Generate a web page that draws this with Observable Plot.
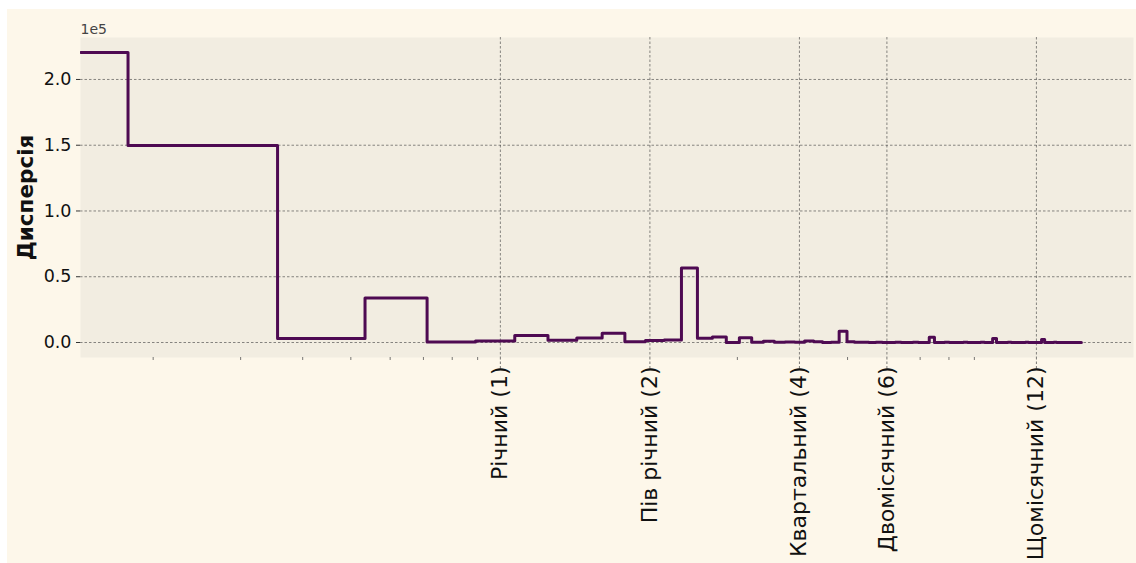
<!DOCTYPE html>
<html>
<head>
<meta charset="utf-8">
<script src="https://cdn.jsdelivr.net/npm/d3@7"></script>
<script src="https://cdn.jsdelivr.net/npm/@observablehq/plot@0.6"></script>
<style>
  html, body { margin: 0; padding: 0; background: #ffffff; }
  #fig { position: absolute; left: 7px; top: 9px; width: 1129px; height: 554px; background: #fdf7ea; overflow: hidden; }
</style>
</head>
<body>
<div id="fig"></div>
<script>
// Frequency (cycles per year) at each step edge
const freq = [0.143, 0.178, 0.356, 0.534, 0.712, 0.891, 1.069, 1.247, 1.425, 1.603,
  1.781, 1.959, 2.137, 2.315, 2.493, 2.672, 2.850, 3.028, 3.206, 3.384,
  3.562, 3.740, 3.918, 4.096, 4.274, 4.453, 4.631, 4.809, 4.987, 5.165,
  5.343, 5.521, 5.699, 5.877, 6.055, 6.234, 6.412, 6.590, 6.768, 6.946,
  7.124, 7.302, 7.480, 7.658, 7.836, 8.015, 8.193, 8.371, 8.549, 8.727,
  8.905, 9.083, 9.261, 9.439, 9.617, 9.796, 9.974, 10.152, 10.330, 10.508,
  10.686, 10.864, 11.042, 11.220, 11.398, 11.577, 11.755, 11.933, 12.111, 12.289,
  12.467, 12.645, 12.823, 13.001, 13.179, 13.358, 13.536, 13.714, 13.892, 14.070,
  14.248, 14.426, 14.604, 14.782];
// Variance on each step (value holds until the next edge)
const variance = [220500, 149800, 3000, 33800, 300, 1200, 5300, 1800, 3400, 7000,
  600, 1500, 2000, 56700, 3300, 4200, 100, 3600, 200, 1000,
  200, 300, 200, 1100, 600, 100, 200, 8500, 600, 200,
  150, 100, 150, 100, 100, 150, 100, 100, 150, 100,
  100, 4000, 100, 100, 150, 100, 100, 100, 150, 100,
  100, 100, 150, 100, 100, 3000, 100, 100, 100, 150,
  100, 100, 100, 100, 150, 100, 100, 100, 100, 2300,
  100, 100, 100, 150, 100, 100, 100, 100, 100, 100,
  100, 100, 100, 100];
const majorTicks = [1, 2, 4, 6, 12];
const majorLabels = ["Річний (1)", "Пів річний (2)", "Квартальний (4)", "Двомісячний (6)", "Щомісячний (12)"];
const minorTicks = [0.2, 0.3, 0.4, 0.5, 0.6, 0.7, 0.8, 0.9, 3, 5, 7, 8, 9];
const yTicks = [0, 50000, 100000, 150000, 200000];
const yTickLabels = ["0.0", "0.5", "1.0", "1.5", "2.0"];

const data = freq.map((f, i) => ({f, v: variance[i]}));
const labelRows = majorTicks.map((t, i) => ({t, label: majorLabels[i]}));

const chart = Plot.plot({
  width: 1129,
  height: 554,
  marginLeft: 73,
  marginRight: 3,
  marginTop: 28,
  marginBottom: 206,
  style: {fontFamily: "DejaVu Sans", background: "transparent", color: "#111"},
  x: {type: "log", domain: [0.1428, 18.82], axis: null},
  y: {domain: [-11400, 231900], axis: null},
  marks: [
    Plot.frame({fill: "#f2ede1", stroke: null}),
    Plot.gridY(yTicks, {stroke: "#444", strokeOpacity: 0.9, strokeWidth: 0.7, strokeDasharray: "2.5,2"}),
    Plot.gridX(majorTicks, {stroke: "#444", strokeOpacity: 0.9, strokeWidth: 0.7, strokeDasharray: "2.5,2"}),
    Plot.axisX(minorTicks, {tickSize: 3, tickFormat: () => "", stroke: "#555", strokeWidth: 0.8}),
    Plot.axisX(majorTicks, {tickSize: 13, tickFormat: () => "", stroke: "#555", strokeWidth: 0.8, strokeDasharray: "2.5,2"}),
    Plot.axisY(yTicks, {tickSize: 4, tickPadding: 5, fontSize: 17.5, fill: "#111", stroke: "#333",
      tickFormat: d => yTickLabels[yTicks.indexOf(d)], label: null}),
    Plot.text(labelRows, {x: "t", text: "label", frameAnchor: "bottom", rotate: -90, textAnchor: "end",
      lineAnchor: "middle", dy: 9, fontSize: 22, fill: "#111"}),
    Plot.text(["Дисперсія"], {frameAnchor: "left", rotate: -90, textAnchor: "middle", dx: -54, fontSize: 21.5, fontWeight: "bold", fill: "#111"}),
    Plot.text(["1e5"], {frameAnchor: "top-left", textAnchor: "start", dy: -13, fontSize: 14, fill: "#444"}),
    Plot.line(data, {x: "f", y: "v", curve: "step-after", stroke: "#4e0a52", strokeWidth: 3, clip: true})
  ]
});
document.getElementById("fig").appendChild(chart);
</script>
</body>
</html>
